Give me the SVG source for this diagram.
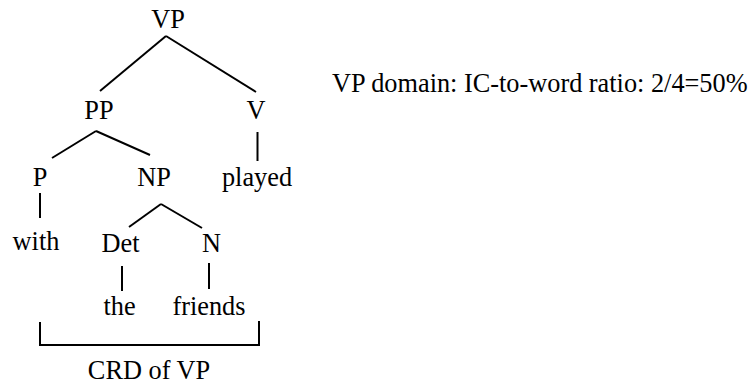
<svg xmlns="http://www.w3.org/2000/svg" width="752" height="385" viewBox="0 0 752 385">
<style>
text{font-family:"Liberation Serif","Times New Roman",serif;font-size:26.3px;fill:#000;text-anchor:middle}
.c line,.c path{stroke:#000;stroke-width:2;fill:none}
</style>
<rect width="752" height="385" fill="#fff"/>
<g class="c" id="connectors">
<line x1="166" y1="36" x2="100" y2="91"/>
<line x1="166" y1="36" x2="256" y2="92"/>
<line x1="96" y1="131" x2="52" y2="158"/>
<line x1="96" y1="131" x2="150" y2="155"/>
<line x1="257.5" y1="132" x2="257.5" y2="161"/>
<line x1="40" y1="193" x2="40" y2="218"/>
<line x1="161" y1="204" x2="129" y2="227"/>
<line x1="161" y1="204" x2="202" y2="228"/>
<line x1="122" y1="266" x2="122" y2="291"/>
<line x1="209" y1="263" x2="209" y2="289"/>
<path d="M40 322V345H259V321"/>
</g>
<g id="VP"><text x="168" y="28">VP</text></g>
<g id="PP"><text x="99" y="119">PP</text></g>
<g id="V"><text x="256" y="119">V</text></g>
<g id="P"><text x="40" y="186">P</text></g>
<g id="NP"><text x="154" y="186">NP</text></g>
<g id="played"><text x="257" y="186">played</text></g>
<g id="with"><text x="36" y="250">with</text></g>
<g id="Det"><text x="120.5" y="252">Det</text></g>
<g id="N"><text x="211.5" y="252">N</text></g>
<g id="the"><text x="119.5" y="315">the</text></g>
<g id="friends"><text x="209" y="315">friends</text></g>
<g id="crd"><text x="149" y="379">CRD of VP</text></g>
<g id="note"><text x="332" y="92" style="text-anchor:start">VP domain: IC-to-word ratio: 2/4=50%</text></g>
</svg>
